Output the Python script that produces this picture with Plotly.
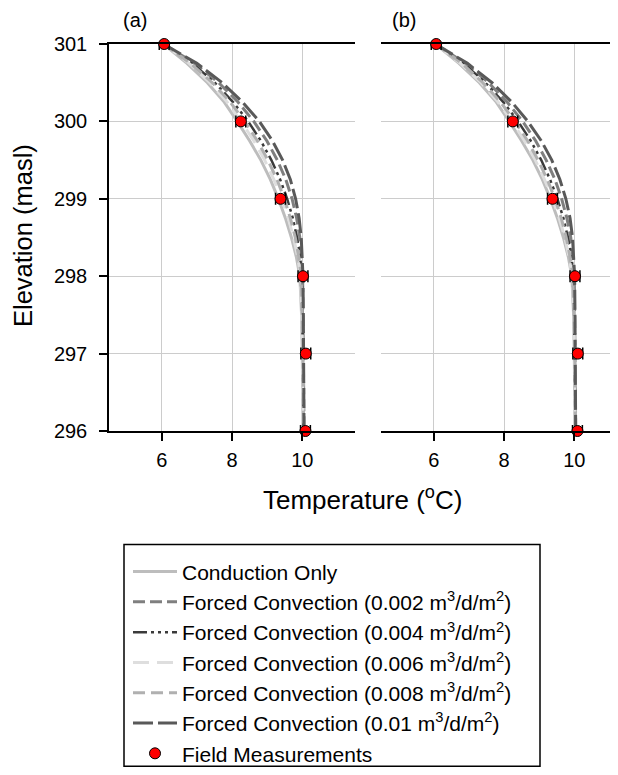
import plotly.graph_objects as go

# ---------------- data ----------------
elev = [301, 300.75, 300.5, 300.25, 300, 299.75, 299.5, 299.25, 299,
        298.75, 298.5, 298.25, 298, 297.5, 297, 296.5, 296]

# panel (a)
a_cond = [6.05, 6.72, 7.30, 7.78, 8.15, 8.50, 8.82, 9.09, 9.32, 9.52, 9.69, 9.83, 9.93, 9.98, 10.0, 10.01, 10.02]
a_q002 = [6.05, 6.94, 7.62, 8.17, 8.62, 8.99, 9.29, 9.53, 9.71, 9.84, 9.93, 9.98, 10.01, 10.02, 10.03, 10.04, 10.05]
a_q004 = [6.05, 6.87, 7.51, 8.03, 8.46, 8.82, 9.12, 9.37, 9.57, 9.73, 9.85, 9.94, 9.99, 10.01, 10.02, 10.03, 10.04]
a_q006 = [6.05, 6.78, 7.37, 7.86, 8.26, 8.62, 8.93, 9.19, 9.41, 9.60, 9.75, 9.87, 9.95, 9.99, 10.01, 10.02, 10.03]
a_q008 = [6.05, 6.82, 7.44, 7.95, 8.36, 8.72, 9.02, 9.28, 9.49, 9.66, 9.80, 9.90, 9.97, 10.0, 10.02, 10.03, 10.04]
a_q010 = [6.05, 7.00, 7.72, 8.30, 8.78, 9.15, 9.44, 9.66, 9.81, 9.91, 9.97, 10.0, 10.02, 10.03, 10.04, 10.05, 10.05]

# panel (b)
b_cond = [6.05, 6.72, 7.30, 7.78, 8.15, 8.50, 8.82, 9.09, 9.32, 9.52, 9.69, 9.83, 9.93, 9.98, 10.0, 10.01, 10.02]
b_q002 = [6.05, 6.90, 7.56, 8.09, 8.53, 8.90, 9.20, 9.45, 9.64, 9.79, 9.90, 9.96, 10.0, 10.01, 10.02, 10.03, 10.04]
b_q004 = [6.05, 6.85, 7.47, 7.98, 8.40, 8.76, 9.06, 9.31, 9.52, 9.69, 9.82, 9.92, 9.98, 10.0, 10.02, 10.03, 10.04]
b_q006 = [6.05, 6.76, 7.35, 7.83, 8.23, 8.58, 8.89, 9.15, 9.38, 9.57, 9.73, 9.85, 9.94, 9.99, 10.01, 10.02, 10.03]
b_q008 = [6.05, 6.80, 7.40, 7.90, 8.31, 8.67, 8.97, 9.23, 9.45, 9.63, 9.77, 9.88, 9.96, 10.0, 10.02, 10.03, 10.03]
b_q010 = [6.05, 6.96, 7.66, 8.22, 8.68, 9.06, 9.36, 9.59, 9.76, 9.88, 9.95, 9.99, 10.01, 10.02, 10.03, 10.04, 10.04]

# field measurements
meas_elev = [301, 300, 299, 298, 297, 296]
meas_temp = [6.07, 8.25, 9.38, 10.02, 10.10, 10.09]
meas_err = [0.14, 0.14, 0.14, 0.14, 0.14, 0.14]

series_names = [
    "Conduction Only",
    "Forced Convection (0.002 m<sup>3</sup>/d/m<sup>2</sup>)",
    "Forced Convection (0.004 m<sup>3</sup>/d/m<sup>2</sup>)",
    "Forced Convection (0.006 m<sup>3</sup>/d/m<sup>2</sup>)",
    "Forced Convection (0.008 m<sup>3</sup>/d/m<sup>2</sup>)",
    "Forced Convection (0.01 m<sup>3</sup>/d/m<sup>2</sup>)",
]
meas_name = "Field Measurements"
y_ticks = [296, 297, 298, 299, 300, 301]
x_ticks = [6, 8, 10]

# ---------------- styles ----------------
styles = [
    dict(color="#bdbdbd", width=3, dash="solid"),
    dict(color="#7f7f7f", width=3, dash="12px,5px"),
    dict(color="#3a3a3a", width=2.5, dash="14px,4px,3px,4px,3px,4px,3px,4px"),
    dict(color="#dedede", width=3, dash="16px,8px"),
    dict(color="#b0b0b0", width=3, dash="12px,6px"),
    dict(color="#595959", width=3, dash="20px,5px"),
]

FONT = "Liberation Sans, Arial, sans-serif"

fig = go.Figure()

panels = [
    ("x", "y", [a_cond, a_q002, a_q004, a_q006, a_q008, a_q010], True),
    ("x2", "y2", [b_cond, b_q002, b_q004, b_q006, b_q008, b_q010], False),
]
for xa, ya, curves, show in panels:
    for name, vals, st in zip(series_names, curves, styles):
        fig.add_trace(go.Scatter(
            x=vals, y=elev, mode="lines", name=name, line=st,
            xaxis=xa, yaxis=ya, showlegend=show, legendgroup=name,
            cliponaxis=False,
        ))
    fig.add_trace(go.Scatter(
        x=meas_temp, y=meas_elev, mode="markers", name=meas_name,
        marker=dict(color="#ff0000", size=11, line=dict(color="black", width=1)),
        error_x=dict(type="data", array=meas_err, color="black", thickness=1.5, width=6),
        xaxis=xa, yaxis=ya, showlegend=show, legendgroup=meas_name,
        cliponaxis=False,
    ))

# page (browser) pixel layout; the page body adds an 8px offset
OFF = 8
W, H = 618 - OFF, 775 - OFF
PLOT_L, PLOT_T, PLOT_B = 109, 44, 433      # page coordinates
L = PLOT_L - OFF
T = PLOT_T - OFF
B = H - (PLOT_B - OFF)
R = 0
PW, PH = W - L - R, H - T - B

def px_x(p):
    return (p - OFF - L) / PW

def px_y(p):
    return ((PLOT_B - OFF) - (p - OFF)) / PH

grid = "#cccccc"
axis_common = dict(
    showline=True, linecolor="black", linewidth=1.5,
    ticks="outside", ticklen=8, tickwidth=1.5, tickcolor="black",
    showgrid=True, gridcolor=grid, gridwidth=1, zeroline=False,
    tickfont=dict(family=FONT, size=20, color="black"),
)

unit_px = (355 - 109) / 7.0
xb_max = 4.5 + (618 - 381) / unit_px

fig.update_layout(
    width=W, height=H,
    margin=dict(l=L, r=R, t=T, b=B, pad=0),
    paper_bgcolor="white", plot_bgcolor="white",
    font=dict(family=FONT, color="black"),
    xaxis=dict(axis_common, domain=[0, px_x(355)], range=[4.5, 11.5],
               tickvals=x_ticks, mirror=True, anchor="y", ticklabelstandoff=2),
    xaxis2=dict(axis_common, domain=[px_x(381), 1], range=[4.5, xb_max],
                tickvals=x_ticks, mirror=True, anchor="y2", ticklabelstandoff=2),
    yaxis=dict(axis_common, domain=[0, 1], range=[296, 301], tickvals=y_ticks,
               anchor="x", ticklabelstandoff=8),
    yaxis2=dict(domain=[0, 1], range=[296, 301], tickvals=y_ticks, anchor="x2",
                showline=False, showticklabels=False, ticks="",
                showgrid=True, gridcolor=grid, gridwidth=1, zeroline=False),
    showlegend=True,
    legend=dict(
        x=px_x(128), y=px_y(554), xanchor="left", yanchor="top",
        bgcolor="rgba(0,0,0,0)", borderwidth=0, itemwidth=44,
        font=dict(family=FONT, size=21, color="black"),
        tracegroupgap=0,
    ),
    shapes=[dict(type="rect", xref="paper", yref="paper",
                 x0=px_x(124), x1=px_x(540), y0=px_y(770), y1=px_y(547),
                 line=dict(color="black", width=1.5), fillcolor="rgba(0,0,0,0)")],
    annotations=[
        dict(text="(a)", x=px_x(135), y=px_y(20), xref="paper", yref="paper",
             showarrow=False, font=dict(family=FONT, size=20), xanchor="center", yanchor="middle"),
        dict(text="(b)", x=px_x(404), y=px_y(20), xref="paper", yref="paper",
             showarrow=False, font=dict(family=FONT, size=20), xanchor="center", yanchor="middle"),
        dict(text="Temperature (<sup>o</sup>C)", x=px_x(362), y=px_y(501), xref="paper", yref="paper",
             showarrow=False, font=dict(family=FONT, size=26), xanchor="center", yanchor="middle"),
        dict(text="Elevation (masl)", x=px_x(23), y=px_y(237), xref="paper", yref="paper",
             showarrow=False, font=dict(family=FONT, size=25.5), textangle=-90,
             xanchor="center", yanchor="middle"),
    ],
)

fig.write_html("out.html")
